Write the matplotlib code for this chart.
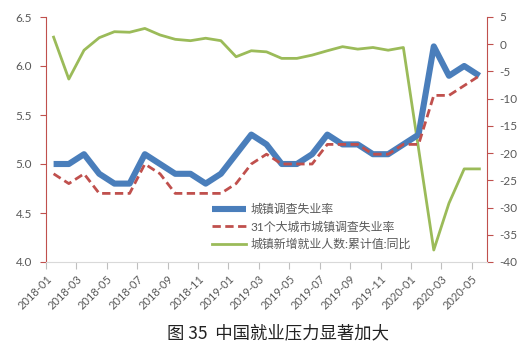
import numpy as np
import matplotlib
matplotlib.use("Agg")
import matplotlib.pyplot as plt

plt.rcParams['font.family'] = ['Lato', 'Noto Sans CJK SC', 'DejaVu Sans']
plt.rcParams['axes.unicode_minus'] = False

months = ["2018-01", "2018-02", "2018-03", "2018-04", "2018-05", "2018-06",
          "2018-07", "2018-08", "2018-09", "2018-10", "2018-11", "2018-12",
          "2019-01", "2019-02", "2019-03", "2019-04", "2019-05", "2019-06",
          "2019-07", "2019-08", "2019-09", "2019-10", "2019-11", "2019-12",
          "2020-01", "2020-02", "2020-03", "2020-04", "2020-05"]

urban_rate = [5.0, 5.0, 5.1, 4.9, 4.8, 4.8, 5.1, 5.0, 4.9, 4.9, 4.8, 4.9,
              5.1, 5.3, 5.2, 5.0, 5.0, 5.1, 5.3, 5.2, 5.2, 5.1, 5.1, 5.2,
              5.3, 6.2, 5.9, 6.0, 5.9]

city31_rate = [4.9, 4.8, 4.9, 4.7, 4.7, 4.7, 5.0, 4.9, 4.7, 4.7, 4.7, 4.7,
               4.8, 5.0, 5.1, 5.0, 5.0, 5.0, 5.2, 5.2, 5.2, 5.1, 5.1, 5.2,
               5.2, 5.7, 5.7, 5.8, 5.9]

new_jobs_yoy = [1.3, -6.4, -1.1, 1.2, 2.3, 2.2, 2.9, 1.7, 0.9, 0.65, 1.1, 0.65,
                -2.3, -1.2, -1.4, -2.6, -2.6, -2.0, -1.2, -0.45, -0.9, -0.6, -1.1, -0.6,
                np.nan, -37.8, -29.2, -22.9, -22.9]

labels = ["城镇调查失业率", "31个大城市城镇调查失业率", "城镇新增就业人数:累计值:同比"]
caption = "图 35  中国就业压力显著加大"

W, H = 529, 357
fig = plt.figure(figsize=(W / 100, H / 100), dpi=100)
ax = fig.add_axes([46 / W, 1 - 262 / H, (487 - 46) / W, (262 - 17) / H])
ax2 = ax.twinx()

x = np.arange(len(months))
gy = np.array(new_jobs_yoy, dtype=float)
mask = ~np.isnan(gy)

l3, = ax2.plot(x[mask], gy[mask], color='#9BBB59', lw=2.0, solid_joinstyle='round')
l1, = ax.plot(x, urban_rate, color='#4A7EBB', lw=4.4, solid_joinstyle='round',
              solid_capstyle='butt')
l2, = ax.plot(x, city31_rate, color='#C0504D', lw=2.0, dashes=(3, 1.6))

ax.set_zorder(ax2.get_zorder() + 1)
ax.patch.set_visible(False)

ax.set_xlim(-0.5, len(months) - 0.5)
ax.set_ylim(4.0, 6.5)
ax2.set_ylim(-40, 5)
ax.set_yticks([4.0, 4.5, 5.0, 5.5, 6.0, 6.5])
ax.set_yticklabels([f"{v:.1f}" for v in [4.0, 4.5, 5.0, 5.5, 6.0, 6.5]])
ax2.set_yticks(np.arange(-40, 6, 5))
ax2.set_yticklabels([str(v) for v in range(-40, 6, 5)])

tick_pos = np.arange(0, len(months), 2) - 0.5
ax.set_xticks(tick_pos)
ax.set_xticklabels(months[0::2], rotation=45, ha='right', va='top',
                   rotation_mode='anchor')

gray = '#595959'
red = '#C0504D'
for a in (ax, ax2):
    a.spines['top'].set_visible(False)
ax.spines['left'].set_color(red)
ax.spines['right'].set_visible(False)
ax2.spines['left'].set_visible(False)
ax2.spines['bottom'].set_visible(False)
ax2.spines['right'].set_color(red)
ax.spines['bottom'].set_color('#D9D9D9')

ax.tick_params(axis='y', colors=red, labelcolor=gray, labelsize=8.5, length=4, width=0.8, pad=6)
ax2.tick_params(axis='y', colors=red, labelcolor=gray, labelsize=8.5, length=4, width=0.8, pad=5)
ax.tick_params(axis='x', colors='#BFBFBF', labelcolor=gray, labelsize=8, length=5, width=0.8, pad=3)

leg = ax.legend([l1, l2, l3], labels, loc='upper left',
                bbox_to_anchor=((207 - 46) / 441, (262 - 199) / 245),
                frameon=False, fontsize=8.6, handlelength=2.9, handletextpad=0.35,
                labelspacing=0.5, borderaxespad=0)
for t in leg.get_texts():
    t.set_color(gray)

fig.text(278 / W, 1 - 333 / H, caption, ha='center', va='center', fontsize=12.5,
         color='#222222', family=['Noto Sans CJK SC', 'DejaVu Sans'])

fig.savefig('out.png', dpi=100)
